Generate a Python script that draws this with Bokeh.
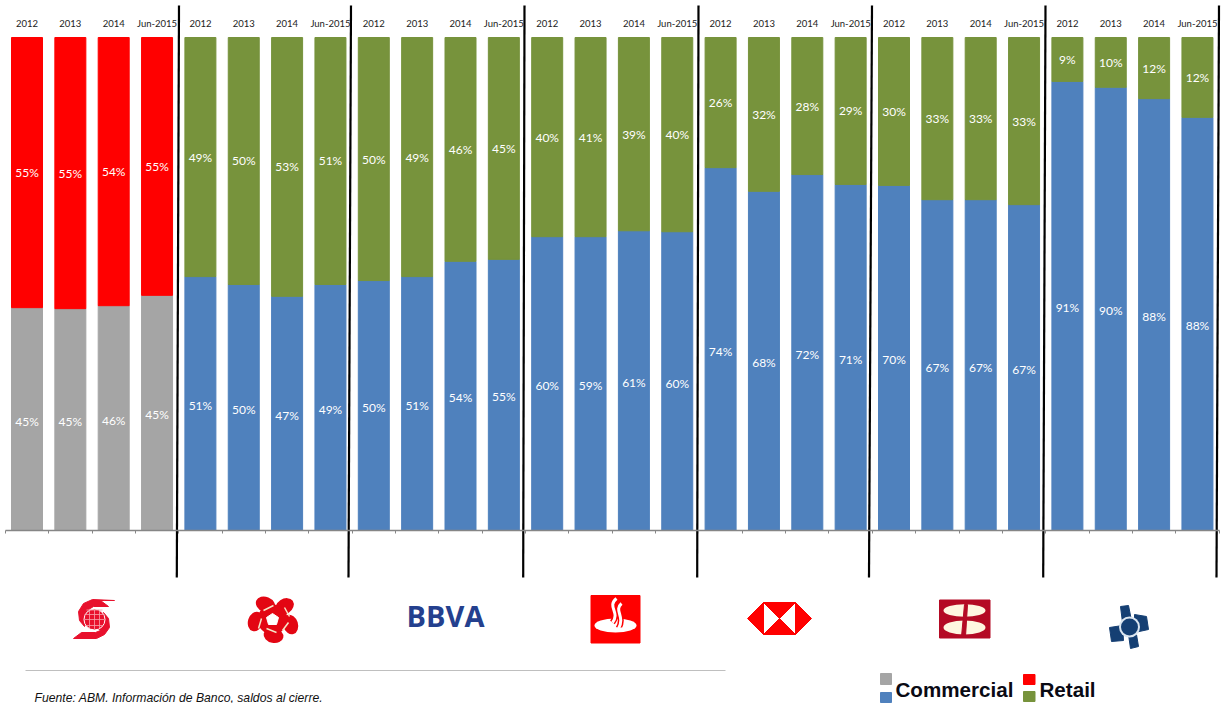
from bokeh.plotting import figure
from bokeh.embed import file_html
from bokeh.resources import INLINE
from bokeh.models import Range1d, LinearAxis, FixedTicker, ColumnDataSource
from bokeh.core.properties import value

periods = ["2012", "2013", "2014", "Jun-2015"]
banks = ["Scotiabank", "Banamex", "BBVA", "Santander", "HSBC", "Banorte", "Inbursa"]

# Drawn segment heights (percent)
commercial_heights = [
    45.2, 45.0, 45.6, 47.7,
    51.5, 49.9, 47.5, 49.9,
    50.7, 51.5, 54.6, 55.0,
    59.6, 59.6, 60.8, 60.6,
    73.6, 68.8, 72.2, 70.2,
    70.0, 67.1, 67.1, 66.1,
    91.1, 89.9, 87.6, 83.8,
]
# Printed labels
commercial_labels = [
    45, 45, 46, 45,
    51, 50, 47, 49,
    50, 51, 54, 55,
    60, 59, 61, 60,
    74, 68, 72, 71,
    70, 67, 67, 67,
    91, 90, 88, 88,
]
retail_labels = [
    55, 55, 54, 55,
    49, 50, 53, 51,
    50, 49, 46, 45,
    40, 41, 39, 40,
    26, 32, 28, 29,
    30, 33, 33, 33,
    9, 10, 12, 12,
]

W, H = 1225, 703
X0, DX = 26.5, 43.35      # page x of first bar centre, bar pitch
Y0, PXU = 530.0, 4.93     # page y of value 0, pixels per percent

n = len(banks) * len(periods)
idx = list(range(n))
is_first = [i < len(periods) for i in idx]
c_color = ["#A5A5A5" if f else "#4F81BD" for f in is_first]
r_color = ["#FF0000" if f else "#77933C" for f in is_first]
heights_r = [100 - c for c in commercial_heights]

p = figure(
    width=W, height=H, output_backend="svg", toolbar_location=None,
    x_range=Range1d(-X0 / DX, (W - X0) / DX),
    y_range=Range1d(-(H - Y0) / PXU, Y0 / PXU),
    y_axis_location=None, min_border=0, outline_line_color=None,
    background_fill_color="white",
)
p.grid.visible = False
p.extra_x_ranges = {"px": Range1d(0, W)}
p.extra_y_ranges = {"px": Range1d(H, 0)}
PX = dict(x_range_name="px", y_range_name="px")

src = ColumnDataSource(dict(
    x=idx, c=commercial_heights, r=heights_r,
    top=[100] * n, c_color=c_color, r_color=r_color,
    c_mid=[c / 2 for c in commercial_heights],
    r_mid=[c + (100 - c) / 2 for c in commercial_heights],
    c_lab=[f"{v}%" for v in commercial_labels],
    r_lab=[f"{v}%" for v in retail_labels],
))
BAR = 31 / DX
p.vbar(x="x", bottom=0, top="c", width=BAR, color="c_color", source=src)
p.vbar(x="x", bottom="c", top="top", width=BAR, color="r_color", source=src)

label_style = dict(text_color="white", text_font=value("Lato"), text_font_size="12px",
                   text_align="center", text_baseline="middle")
p.text(x="x", y="c_mid", text="c_lab", source=src, y_offset=2, **label_style)
p.text(x="x", y="r_mid", text="r_lab", source=src, y_offset=0, **label_style)

# Bottom axis: grey line with ticks between the categories
ax = p.xaxis[0]
ax.fixed_location = 0
ax.bounds = (-0.5, n - 0.5)
ax.ticker = FixedTicker(ticks=[i - 0.5 for i in range(n + 1)])
ax.major_label_overrides = {i - 0.5: "" for i in range(n + 1)}
ax.axis_line_color = "#868686"
ax.axis_line_width = 1.5
ax.major_tick_line_color = "#868686"
ax.major_tick_out = 3
ax.major_tick_in = 0
ax.minor_tick_line_color = None

# Top axis carrying the period labels
top = LinearAxis(
    fixed_location=100 + 3 / PXU,
    ticker=FixedTicker(ticks=idx),
    major_label_overrides={i: periods[i % len(periods)] for i in idx},
    axis_line_color=None, major_tick_line_color=None, minor_tick_line_color=None,
    major_label_text_font="Lato", major_label_text_font_size="9.5px",
    major_label_text_color="#222222", major_label_standoff=0,
)
p.add_layout(top, "above")

# Separators
sep_top = [178.5, 350.5, 524, 698, 871.5, 1045, 1218.5]
sep_bot = [176.3, 348, 522.7, 696.7, 868.5, 1042.7, 1216]
p.segment(x0=sep_top, y0=[5] * 7, x1=sep_bot, y1=[577] * 7, line_color="black", line_width=2.2, **PX)

# Logos ---------------------------------------------------------------
RED = "#E8112D"
# Scotiabank
p.patch([114, 92, 83, 78, 79, 84, 92, 88, 93, 108, 100, 104], [600, 599, 603, 611, 620, 626, 612, 609, 606, 606, 600, 600],
        color=RED, **PX)
p.patch([73, 96, 104, 109, 108, 103, 96, 100, 95, 81], [638, 638, 634, 627, 618, 612, 627, 630, 632, 632], color=RED, **PX)
p.circle([94], [619], radius=10.5, fill_color=RED, line_color="white", line_width=1, **PX)
p.multi_line([[84, 104], [84, 104], [86, 102], [86, 102], [94, 94], [89, 89], [99, 99]],
             [[619, 619], [614, 614], [609.5, 609.5], [625, 625], [609, 629], [610, 628], [610, 628]],
             line_color="#F8A0A8", line_width=0.8, **PX)

# Banamex
p.ellipse([265, 284, 290, 273, 255], [604, 606, 624, 635, 621], width=[20, 20, 15, 20, 15], height=[15, 15, 20, 15, 20],
          angle=[-0.4, 0.6, 0.3, -0.2, -0.3], fill_color="#E30613", line_color=None, **PX)
p.circle([272], [619], radius=15, fill_color="#E30613", line_color=None, **PX)
p.multi_line([[263, 273], [284, 289], [288, 282], [276, 266], [258, 261]],
             [[610, 605], [607, 616], [622, 630], [632, 628], [628, 618]],
             line_color="#F6E6C8", line_width=1.5, **PX)
p.patch([272, 278, 276, 268, 266], [613, 617, 624, 624, 617], color="white", **PX)

# BBVA
p.text([445], [615], text=["BBVA"], text_font=value("Open Sans"), text_font_style="bold", text_font_size="29px",
       text_color="#24408E", text_align="center", text_baseline="middle", **PX)

# Santander
p.quad(left=[590.5], right=[639.5], top=[595], bottom=[642.5], color="#FF0000", **PX)
p.ellipse([615], [625], width=42, height=14, fill_color="white", line_color=None, **PX)
for x0, y0, cx0, cy0, cx1, cy1, x1, y1 in [(616, 598, 606, 606, 620, 612, 612, 622), (621, 603, 613, 610, 625, 616, 618, 628)]:
    p.bezier([x0], [y0], [x1], [y1], [cx0], [cy0], [cx1], [cy1], line_color="#FF0000", line_width=6, **PX)
for x0, y0, cx0, cy0, cx1, cy1, x1, y1 in [(616, 598, 606, 606, 620, 612, 612, 622), (621, 603, 613, 610, 625, 616, 618, 628)]:
    p.bezier([x0], [y0], [x1], [y1], [cx0], [cy0], [cx1], [cy1], line_color="white", line_width=3, **PX)
p.multi_line([[608, 622]], [[628.5, 628.5]], line_color="white", line_width=3, **PX)

# HSBC
p.patch([747, 763, 763], [618, 602, 634], color="#FF0000", **PX)
p.patch([811, 795, 795], [618, 602, 634], color="#FF0000", **PX)
p.patch([763, 795, 779], [602, 602, 618], color="#FF0000", **PX)
p.patch([763, 795, 779], [634, 634, 618], color="#FF0000", **PX)

# Banorte
p.quad(left=[939], right=[989.5], top=[599.5], bottom=[637.5], color="#B40A24", **PX)
p.ellipse([964, 964], [610, 627], width=[42, 42], height=[12.5, 14], fill_color="#FFF6E0", line_color=None, **PX)
p.patch([964, 967, 965, 961], [604, 604, 636, 636], color="#B40A24", **PX)

# Inbursa
NAVY = "#153F73"
p.patches(
    [[1120, 1128, 1131, 1122], [1134, 1146, 1148, 1134], [1128, 1136, 1138, 1130], [1109, 1122, 1123, 1111]],
    [[606, 605, 620, 622], [614, 616, 629, 632], [634, 634, 646, 648], [627, 625, 640, 641]],
    color=NAVY, **PX)
p.circle([1129], [626.5], radius=10.5, fill_color="#DCE6F0", line_color=None, **PX)
p.circle([1129], [626.5], radius=8.5, fill_color=NAVY, line_color=None, **PX)

# Footer --------------------------------------------------------------
p.line([25, 725], [670, 670], line_color="#BFBFBF", line_width=1.2, **PX)
p.text([34], [697], text=["Fuente: ABM. Información de Banco, saldos al cierre."],
       text_font=value("Liberation Sans"), text_font_style="italic", text_font_size="12.2px",
       text_color="#111111", text_align="left", text_baseline="middle", **PX)

# Legend
p.quad(left=[880, 880, 1023, 1023], right=[891, 891, 1034.5, 1034.5],
       top=[673, 692, 674, 691], bottom=[684, 702, 684, 701],
       color=["#A5A5A5", "#4F81BD", "#FF0000", "#77933C"], **PX)
p.text([895, 1039], [689, 689], text=["Commercial", "Retail"], text_font=value("Liberation Sans"),
       text_font_style="bold", text_font_size="20.6px", text_color="#0A0A14",
       text_align="left", text_baseline="middle", **PX)

open("out.html", "w").write(file_html(p, INLINE))
